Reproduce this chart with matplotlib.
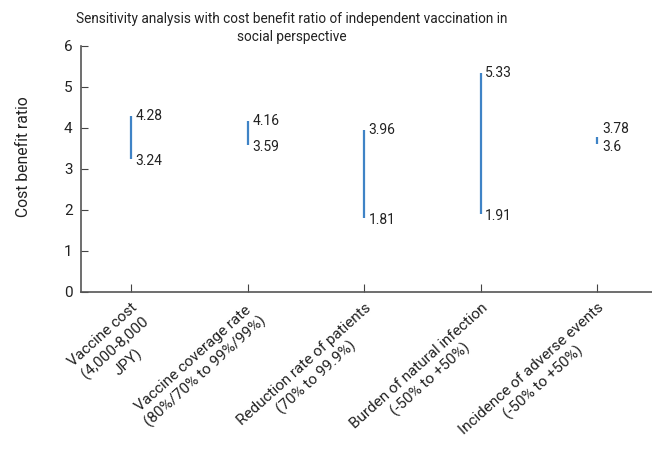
import numpy as np
import matplotlib.pyplot as plt

plt.rcParams['font.family'] = ['Roboto', 'DejaVu Sans']

categories = ["Vaccine cost\n(4,000-8,000\nJPY)",
              "Vaccine coverage rate\n(80%/70% to 99%/99%)",
              "Reduction rate of patients\n(70% to 99.9%)",
              "Burden of natural infection\n(-50% to +50%)",
              "Incidence of adverse events\n(-50% to +50%)"]
high = [4.28, 4.16, 3.96, 5.33, 3.78]
low = [3.24, 3.59, 1.81, 1.91, 3.6]

fig = plt.figure(figsize=(6.52, 4.54), dpi=100)
ax = fig.add_axes([0.124, 0.357, 0.876, 0.542])

x = np.arange(len(categories))
ax.vlines(x, low, high, color='#3f83c6', linewidth=1.6)

for xi, hi, lo in zip(x, high, low):
    hy, ly = hi, lo - 0.05
    if hi - lo < 0.5:
        hy, ly = hi + 0.2, lo - 0.06
    ax.text(xi + 0.04, hy, f"{hi:g}", ha='left', va='center', fontsize=10, color='#222222')
    ax.text(xi + 0.04, ly, f"{lo:g}", ha='left', va='center', fontsize=10, color='#222222')

ax.set_xlim(-0.43, 4.47)
ax.set_ylim(0, 6)
ax.set_yticks(range(7))
ax.set_xticks(x)
ax.set_xticklabels(categories, rotation=42, ha='right', va='top',
                   rotation_mode='anchor', multialignment='center', fontsize=11,
                   color='#222222', linespacing=1.3)
ax.tick_params(axis='x', direction='in', length=6, color='#444444', pad=6)
ax.tick_params(axis='y', direction='in', length=5, color='#444444', labelsize=11,
               labelcolor='#222222', pad=6)
for s in ['top', 'right']:
    ax.spines[s].set_visible(False)
for s in ['left', 'bottom']:
    ax.spines[s].set_color('#555555')
    ax.spines[s].set_linewidth(1.2)

ax.set_ylabel("Cost benefit ratio", fontsize=11.3, color='#222222')
ax.yaxis.set_label_coords(-0.087, 0.55)

fig.text(0.447, 1 - 12 / 454, "Sensitivity analysis with cost benefit ratio of independent vaccination in\nsocial perspective",
         ha='center', va='top', fontsize=9.8, color='#222222', linespacing=1.35)

fig.savefig("out.png", dpi=100)
